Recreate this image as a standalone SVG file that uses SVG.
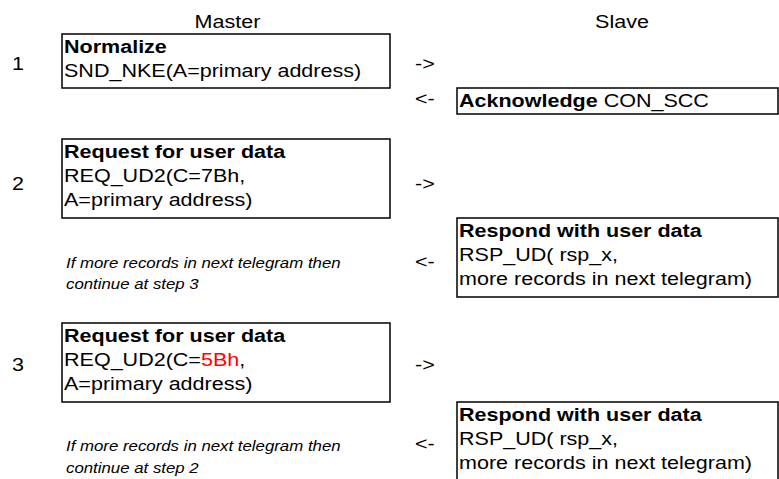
<svg xmlns="http://www.w3.org/2000/svg" width="779" height="479" viewBox="0 0 779 479">
<style>
text{font-family:"Liberation Sans",Arial,sans-serif;font-size:17.5px;fill:#000}
.b{font-weight:bold}
.i{font-style:italic;font-size:14.5px}
.box{fill:#fff;stroke:#000;stroke-width:1.5}
.red{fill:#ff0000}
.h{text-anchor:middle}
</style>
<rect width="779" height="479" fill="#fff"/>
<g id="headers">
<text class="h" transform="translate(227.5 28) scale(1.23 1)">Master</text>
<text class="h" transform="translate(622 28) scale(1.23 1)">Slave</text>
</g>
<g id="step-numbers">
<text transform="translate(12 70) scale(1.23 1)">1</text>
<text transform="translate(12 190) scale(1.23 1)">2</text>
<text transform="translate(12 371) scale(1.23 1)">3</text>
</g>
<g id="m1">
<rect class="box" x="62" y="34" width="328" height="54"/>
<text transform="translate(64 0) scale(1.23 1)"><tspan class="b" x="0" y="53">Normalize</tspan><tspan x="0" y="77">SND_NKE(A=primary address)</tspan></text>
</g>
<g id="s1">
<rect class="box" x="457" y="88" width="321" height="26"/>
<text transform="translate(459 107) scale(1.23 1)"><tspan class="b">Acknowledge</tspan> CON_SCC</text>
</g>
<g id="m2">
<rect class="box" x="62" y="139" width="328" height="79"/>
<text transform="translate(64 0) scale(1.23 1)"><tspan class="b" x="0" y="158">Request for user data</tspan><tspan x="0" y="182">REQ_UD2(C=7Bh,</tspan><tspan x="0" y="206">A=primary address)</tspan></text>
</g>
<g id="note2">
<text class="i" transform="translate(66 0) scale(1.16 1)"><tspan x="0" y="268">If more records in next telegram then</tspan><tspan x="0" y="289">continue at step 3</tspan></text>
</g>
<g id="s2">
<rect class="box" x="457" y="218" width="321" height="79"/>
<text transform="translate(459 0) scale(1.23 1)"><tspan class="b" x="0" y="237">Respond with user data</tspan><tspan x="0" y="261">RSP_UD( rsp_x,</tspan><tspan x="0" y="285">more records in next telegram)</tspan></text>
</g>
<g id="m3">
<rect class="box" x="62" y="323" width="328" height="79"/>
<text transform="translate(64 0) scale(1.23 1)"><tspan class="b" x="0" y="342">Request for user data</tspan><tspan x="0" y="366">REQ_UD2(C=<tspan class="red">5Bh</tspan>,</tspan><tspan x="0" y="390">A=primary address)</tspan></text>
</g>
<g id="note3">
<text class="i" transform="translate(66 0) scale(1.16 1)"><tspan x="0" y="451">If more records in next telegram then</tspan><tspan x="0" y="473">continue at step 2</tspan></text>
</g>
<g id="s3">
<rect class="box" x="457" y="402" width="321" height="85"/>
<text transform="translate(459 0) scale(1.23 1)"><tspan class="b" x="0" y="421">Respond with user data</tspan><tspan x="0" y="445">RSP_UD( rsp_x,</tspan><tspan x="0" y="469">more records in next telegram)</tspan></text>
</g>
<g id="connectors">
<text transform="translate(415 70) scale(1.23 1)">-&gt;</text>
<text transform="translate(415 105) scale(1.23 1)">&lt;-</text>
<text transform="translate(415 190) scale(1.23 1)">-&gt;</text>
<text transform="translate(415 268) scale(1.23 1)">&lt;-</text>
<text transform="translate(415 371) scale(1.23 1)">-&gt;</text>
<text transform="translate(415 450) scale(1.23 1)">&lt;-</text>
</g>
</svg>
